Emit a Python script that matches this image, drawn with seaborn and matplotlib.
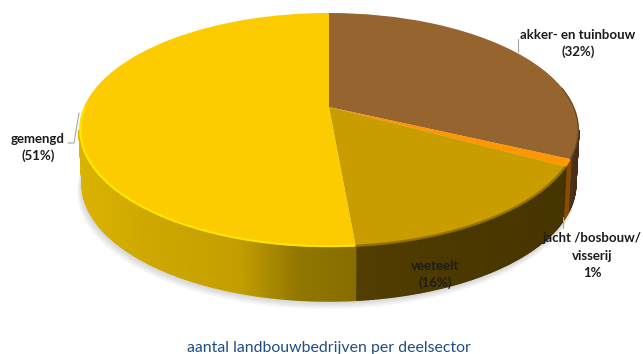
import numpy as np
import matplotlib
matplotlib.use("Agg")
import matplotlib.pyplot as plt
from matplotlib.transforms import Transform
import seaborn as sns

categories = ["akker- en tuinbouw", "jacht /bosbouw/", "veeteelt", "gemengd"]
values = [32, 1, 15.6, 51.4]
label_lines = [["akker- en tuinbouw", "(32%)"],
               ["jacht /bosbouw/", "visserij", "1%"],
               ["veeteelt", "(16%)"],
               ["gemengd", "(51%)"]]
title = "aantal landbouwbedrijven per deelsector"
face_colors = ["#96642f", "#ff9800", "#c99c00", "#fccb00"]


class Persp(Transform):
    input_dims = 2
    output_dims = 2
    has_inverse = False

    def __init__(self, cx, cy, a, p=0.1966, q=112.5):
        super().__init__()
        self.cx, self.cy, self.a, self.p, self.q = cx, cy, a, p, q

    def transform_non_affine(self, pts):
        pts = np.asarray(pts, float)
        w = 1 + self.p * pts[:, 1]
        return np.column_stack([self.cx + self.a * pts[:, 0] / w,
                                self.cy - self.q * pts[:, 1] / w])


def unit(t):
    r = np.radians(t)
    return np.column_stack([np.cos(r), np.sin(r)])


sns.set_theme(style="white")
plt.rcParams["font.family"] = ["Lato", "DejaVu Sans"]
fig = plt.figure(figsize=(6.43, 3.54), dpi=100)
ax = fig.add_axes([0, 0, 1, 1])

top = Persp(329, 107, 245)
bottom = Persp(329, 161, 242)

wedges, _ = ax.pie(values, colors=face_colors, startangle=90, counterclock=False)
ax.set_aspect("auto")
ax.set_xlim(0, 643)
ax.set_ylim(354, 0)
ax.set_axis_off()
for w in wedges:
    w.set_transform(top + ax.transData)
    w.set_edgecolor("none")
    w.set_zorder(4)

# soft shadow below the disc
circle = unit(np.linspace(0, 360, 181))
for i in range(1, 10):
    pts = Persp(329 - i * 0.3, 161 + i * 0.9, 242 + i * 0.25).transform_non_affine(circle)
    ax.fill(pts[:, 0], pts[:, 1], color="#707070", alpha=0.035, lw=0, zorder=0)

# side wall, shaded along x
wall_x = [[560, 580], [560, 580], [350, 450, 575], [80, 150, 240, 300, 355]]
wall_rgb = [[(95, 62, 30), (70, 45, 22)],
            [(140, 80, 0), (130, 72, 0)],
            [(82, 62, 0), (76, 57, 0), (70, 52, 0)],
            [(219, 178, 0), (206, 168, 0), (195, 158, 0), (145, 118, 0), (135, 110, 0)]]
t_right, t_left = -11.3, -168.7
for w, xs, rgb in zip(wedges, wall_x, wall_rgb):
    a, b = max(w.theta1, t_left), min(w.theta2, t_right)
    if a >= b:
        continue
    ts = np.linspace(a, b, max(2, int((b - a) * 2) + 1))
    up, lo = top.transform_non_affine(unit(ts)), bottom.transform_non_affine(unit(ts))
    rgb = np.array(rgb, float) / 255
    for i in range(len(ts) - 1):
        xm = (up[i, 0] + up[i + 1, 0]) / 2
        col = [np.interp(xm, xs, rgb[:, c]) for c in range(3)]
        poly = np.vstack([up[i], up[i + 1], lo[i + 1], lo[i]])
        ax.fill(poly[:, 0], poly[:, 1], facecolor=col, edgecolor=col, lw=1.0, zorder=2)

# bevel on the front rim
yellow, veeteelt = wedges[3], wedges[2]
ts = np.linspace(-180, yellow.theta2 if yellow.theta2 < -85 else -85, 120)
edge = top.transform_non_affine(unit(ts) * 0.995)
ax.plot(edge[:, 0], edge[:, 1], color="#ffe600", lw=1.5, zorder=5, solid_capstyle="butt")
ts = np.linspace(veeteelt.theta1, veeteelt.theta2, 60)
edge = top.transform_non_affine(unit(ts) * 0.997)
ax.plot(edge[:, 0], edge[:, 1], color="#8a6b00", lw=1.8, alpha=0.8, zorder=5, solid_capstyle="butt")
ts = np.linspace(wedges[0].theta1, 10, 30)
edge = top.transform_non_affine(unit(ts) * 0.998)
ax.plot(edge[:, 0], edge[:, 1], color="#5e3c1c", lw=1.0, alpha=0.7, zorder=5)

# leader lines
for xs, ys in [([68, 74, 79], [143, 143, 113]), ([518, 518], [39, 52]), ([563, 563], [217, 228])]:
    ax.plot(xs, ys, color="#a6a6a6", lw=0.8, zorder=6)

# labels
positions = [(578, [35, 52]), (592, [238, 256, 273]), (435, [266, 283]), (38, [139, 156])]
for lines, (x, ys) in zip(label_lines, positions):
    for line, y in zip(lines, ys):
        ax.text(x, y, line, ha="center", va="center", fontsize=9.5, fontweight="bold",
                color="#1c1c1c", zorder=7)

ax.text(329, 348, title, ha="center", va="center", fontsize=11.4, color="#1f4e87", zorder=7)

fig.savefig("out.png", dpi=100, facecolor="white")
